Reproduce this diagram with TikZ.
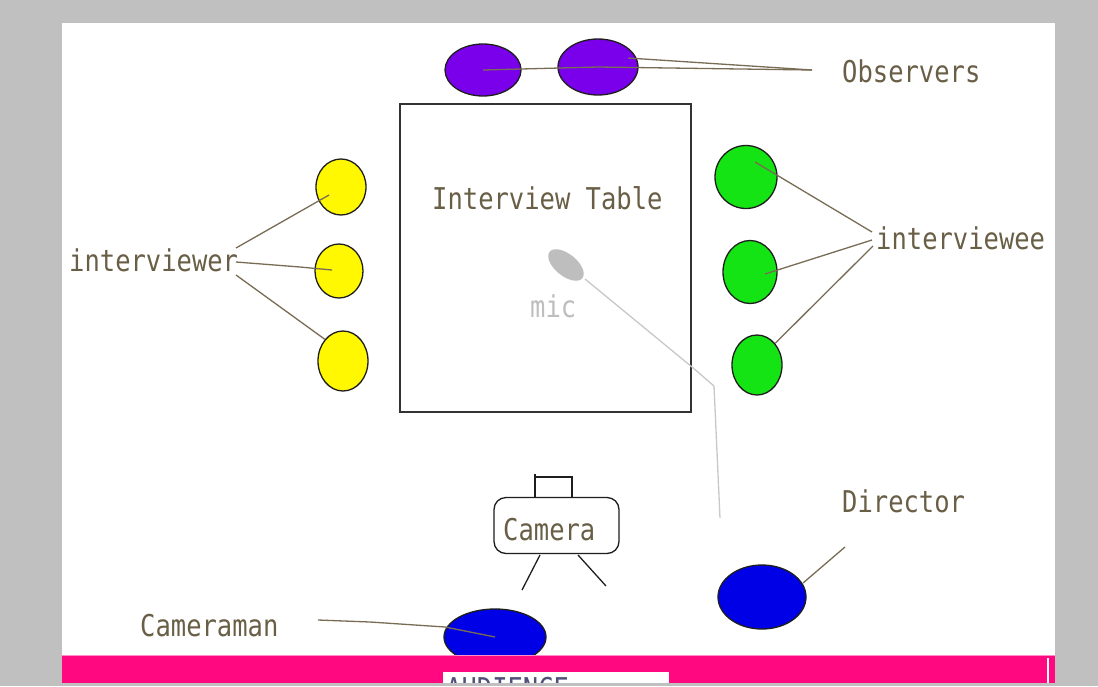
\documentclass[tikz,border=0pt]{standalone}
\usepackage{fontspec}
\newfontfamily\lblfont[FakeStretch=0.85]{DejaVu Sans Mono}
\usetikzlibrary{shapes.geometric}
\definecolor{bgray}{RGB}{192,192,192}
\definecolor{txt}{RGB}{105,95,70}
\definecolor{conn}{RGB}{120,108,85}
\definecolor{outl}{RGB}{30,30,30}
\definecolor{obs}{RGB}{122,0,235}
\definecolor{yel}{RGB}{255,248,0}
\definecolor{grn}{RGB}{20,228,20}
\definecolor{blu}{RGB}{0,0,230}
\definecolor{pinkbar}{RGB}{255,8,128}
\definecolor{pinkedge}{RGB}{255,140,200}
\definecolor{micgray}{RGB}{190,190,190}
\definecolor{wiregray}{RGB}{200,200,200}
\definecolor{audtxt}{RGB}{80,80,120}
\tikzset{
  person/.style={ellipse, draw=outl, line width=1.3pt, inner sep=0pt},
  tag/.style={font=\lblfont\fontsize{30}{30}\selectfont, text=txt, inner sep=0pt, anchor=base west},
  conline/.style={draw=conn, line width=1.3pt},
  wire/.style={draw=wiregray, line width=1.3pt},
  camline/.style={draw=outl, line width=1.3pt}
}
\begin{document}
\begin{tikzpicture}[x=1pt,y=-1pt]
\useasboundingbox (0,0) rectangle (1098,686);
\fill[bgray] (0,0) rectangle (1098,686);
\fill[white] (62,23) rectangle (1055,655);

% table
\node[draw=black!80, line width=1.5pt, minimum width=291pt, minimum height=308pt, inner sep=0pt] (table) at (545.5,258) {};
\node[tag] (tabletxt) at (432,209) {Interview Table};

% mic
\fill[micgray, rotate around={-39:(566,265)}] (566,265) ellipse [x radius=21, y radius=11];
\coordinate (micend) at (585,279);
\coordinate (w1) at (692,367);
\coordinate (w2) at (714,386);
\coordinate (wend) at (720,518);
\draw[wire] (micend) -- (w1) -- (w2) -- (wend);
\node[tag, text=micgray] (mictxt) at (530,317) {mic};

% observers
\node[person, fill=obs, minimum width=76pt, minimum height=52pt] (o1) at (483,70) {};
\node[person, fill=obs, minimum width=80pt, minimum height=56pt] (o2) at (598,67) {};
\node[tag] (obstxt) at (842,82) {Observers};
\coordinate (obsend) at (812,70);
\coordinate (o2up) at (628,58);
\draw[conline] (o1.center) -- (o2.center) -- (obsend);
\draw[conline] (o2up) -- (obsend);

% interviewer
\node[person, fill=yel, minimum width=50pt, minimum height=56pt] (y1) at (341,187) {};
\node[person, fill=yel, minimum width=48pt, minimum height=54pt] (y2) at (339,271) {};
\node[person, fill=yel, minimum width=50pt, minimum height=60pt] (y3) at (343,361) {};
\node[tag] (ivrtxt) at (69,271) {interviewer};
\coordinate (ia) at (236,248);
\coordinate (ib) at (236,262);
\coordinate (ic) at (236,275);
\coordinate (y1in) at (329,195);
\coordinate (y2in) at (332,270);
\draw[conline] (ia) -- (y1in);
\draw[conline] (ib) -- (300,267) -- (y2in);
\draw[conline] (ic) -- (y3.north west);

% interviewee
\node[person, fill=grn, minimum width=62pt, minimum height=63pt] (g1) at (746,177) {};
\node[person, fill=grn, minimum width=54pt, minimum height=63pt] (g2) at (750,272) {};
\node[person, fill=grn, minimum width=50pt, minimum height=60pt] (g3) at (757,365) {};
\node[tag] (ivetxt) at (876,249) {interviewee};
\coordinate (ea) at (872,232);
\coordinate (eb) at (872,240);
\coordinate (ec) at (873,246);
\coordinate (g1in) at (755,162);
\coordinate (g2in) at (765,274);
\draw[conline] (ea) -- (g1in);
\draw[conline] (eb) -- (g2in);
\draw[conline] (ec) -- (g3.north east);

% camera
\node[draw=outl, line width=1.3pt, rounded corners=12pt, minimum width=125pt, minimum height=56pt, inner sep=0pt] (cam) at (556.5,525.5) {};
\node[tag] (camtxt) at (503,540) {Camera};
\draw[camline] (535,474) -- (535,498);
\draw[camline] (535,477) -- (572,477) -- (572,498);
\draw[camline] (540,555) -- (522,590);
\draw[camline] (578,555) -- (606,586);

% director
\node[person, fill=blu, minimum width=88pt, minimum height=64pt] (dir) at (762,597) {};
\node[tag] (dirtxt) at (842,512) {Director};
\coordinate (dirend) at (845,547);
\coordinate (dirin) at (803,583);
\draw[conline] (dirin) -- (dirend);

% cameraman
\node[person, fill=blu, minimum width=102pt, minimum height=56pt] (cman) at (495,637) {};
\node[tag] (cmantxt) at (140,636) {Cameraman};
\coordinate (cmstart) at (318,620);
\draw[conline] (cmstart) -- (370,622) -- (445,627) -- (cman.center);

% audience bar
\fill[pinkbar] (62,655) rectangle (1055,686);
\draw[pinkedge, line width=1.5pt] (62,655.5) -- (1055,655.5);
\draw[white, line width=1.5pt] (1048,658) -- (1048,686);
\begin{scope}
\clip (0,0) rectangle (1098,683);
\fill[white] (443,672) rectangle (669,690);
\node[tag, text=audtxt] (aud) at (446,699) {AUDIENCE};
\end{scope}
\fill[bgray] (0,683) rectangle (1098,686);
\end{tikzpicture}
\end{document}
